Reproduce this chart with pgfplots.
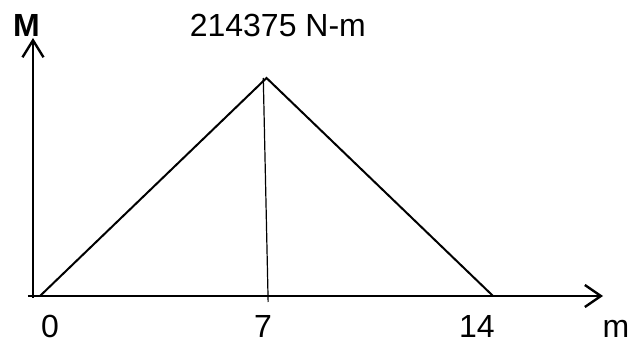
\documentclass[border=0pt]{standalone}
\usepackage{fontspec}
\setmainfont{Liberation Sans}
\usepackage{pgfplots}
\pgfplotsset{compat=1.18}
\usetikzlibrary{arrows.meta}
\tikzset{lbl/.style={font=\fontsize{16}{18}\selectfont, inner sep=0pt, anchor=base}}
\begin{document}
\begin{tikzpicture}
\begin{axis}[
  scale only axis,
  width=315.5pt, height=173.5pt,
  xmin=-1.236, xmax=18.263,
  ymin=-50152, ymax=291077,
  axis lines=none,
  clip=false,
]
\path (rel axis cs:0,0) rectangle (rel axis cs:1,1);
% axes
\draw[line width=1.2pt, -{Straight Barb[length=8.5pt, width=10.5pt, line width=1.2pt]}]
  (axis cs:-0.2163,-1967) -- (axis cs:-0.2163,253705);
\draw[line width=1.2pt, -{Straight Barb[length=8pt, width=11pt, line width=1.2pt]}]
  (axis cs:-0.371,0) -- (axis cs:17.398,0);
% bending moment diagram
\addplot[black, line width=1pt] coordinates {(0,0) (7,214375) (14,0)};
\addplot[black, line width=0.6pt] coordinates {(6.9,214375) (7.05,-5900)};
% labels
\node[lbl] at (axis cs:-0.417,254689) {\bfseries M};
\node[lbl] at (axis cs:7.35,254689) {214375 N-m};
\node[lbl] at (axis cs:0.309,-41301) {0};
\node[lbl] at (axis cs:6.89,-41301) {7};
\node[lbl] at (axis cs:13.5,-41301) {14};
\node[lbl] at (axis cs:17.8,-41301) {m};
\end{axis}
\end{tikzpicture}
\end{document}
